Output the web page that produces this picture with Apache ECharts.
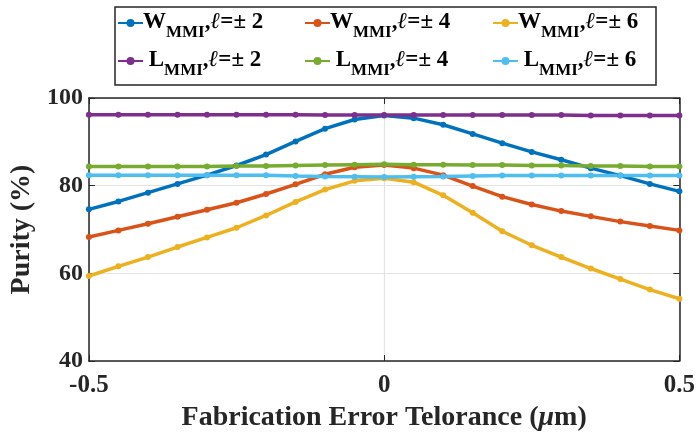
<!DOCTYPE html>
<html lang="en">
<head>
    <meta charset="UTF-8">
    <title>Purity vs fabrication error</title>
    <style>
        html, body { margin: 0; padding: 0; background: #fff; }
    </style>
</head>
<body>
    <div id="app" style="width: 698px;height:437px;"></div>
    <script src="https://cdn.jsdelivr.net/npm/echarts@6/dist/echarts.min.js"></script>
    <script>
        // fabrication error (um)
        const xVals = [-0.5, -0.45, -0.4, -0.35, -0.3, -0.25, -0.2, -0.15, -0.1, -0.05, 0,
                       0.05, 0.1, 0.15, 0.2, 0.25, 0.3, 0.35, 0.4, 0.45, 0.5];
        const wmmi2 = [74.6, 76.4, 78.4, 80.4, 82.4, 84.6, 87.1, 90.1, 93.0, 95.1, 96.0,
                       95.4, 93.9, 91.8, 89.7, 87.7, 85.9, 84.0, 82.3, 80.4, 78.7];
        const wmmi4 = [68.3, 69.8, 71.3, 72.9, 74.5, 76.1, 78.1, 80.3, 82.6, 84.2, 84.7,
                       84.0, 82.4, 79.9, 77.5, 75.7, 74.2, 73.0, 71.8, 70.8, 69.8];
        const wmmi6 = [59.4, 61.6, 63.7, 66.0, 68.2, 70.4, 73.2, 76.3, 79.1, 81.1, 81.7,
                       80.8, 77.8, 73.8, 69.6, 66.4, 63.7, 61.1, 58.7, 56.3, 54.2];
        const lmmi2 = [96.2, 96.2, 96.2, 96.2, 96.2, 96.2, 96.2, 96.2, 96.1, 96.1, 96.1,
                       96.1, 96.1, 96.1, 96.1, 96.1, 96.1, 96.0, 96.0, 96.0, 96.0];
        const lmmi4 = [84.4, 84.4, 84.4, 84.4, 84.4, 84.5, 84.5, 84.6, 84.7, 84.8, 84.9,
                       84.8, 84.8, 84.7, 84.7, 84.6, 84.6, 84.5, 84.5, 84.4, 84.4];
        const lmmi6 = [82.4, 82.4, 82.4, 82.4, 82.4, 82.4, 82.4, 82.2, 82.1, 82.05, 82.0,
                       82.05, 82.1, 82.2, 82.3, 82.3, 82.3, 82.3, 82.3, 82.3, 82.3];

        const names = ['W2', 'W4', 'W6', 'L2', 'L4', 'L6'];
        const seriesData = [wmmi2, wmmi4, wmmi6, lmmi2, lmmi4, lmmi6];
        const colors = ['#0072BD', '#D95319', '#EDB120', '#7E2F8E', '#77AC30', '#4DBEEE'];

        const font = '"Liberation Serif", "Times New Roman", serif';
        const ink = '#262626';

        const pair = arr => arr.map((v, i) => [xVals[i], v]);

        const legendRich = {
            b: { fontFamily: font, fontWeight: 'bold', fontSize: 23, color: '#000', lineHeight: 24, verticalAlign: 'top' },
            s: { fontFamily: font, fontWeight: 'bold', fontSize: 17, color: '#000', lineHeight: 17, verticalAlign: 'top', padding: [13, 0, 0, 0] },
            i: { fontFamily: font, fontStyle: 'italic', fontWeight: 'bold', fontSize: 23, color: '#000', lineHeight: 24, verticalAlign: 'top' }
        };
        function legendText(name) {
            const letter = name[0];
            const l = name[1];
            const pre = letter === 'L' ? ' ' : '';
            return '{b|' + pre + letter + '}{s|MMI}{b|,}{i|ℓ}{b|=± ' + l + '}';
        }
        // legend positions, one per item
        const legLeft = [117, 304, 492, 117, 304, 492];
        const legTop = [11, 11, 11, 49, 49, 49];

        const axisLineStyle = { onZero: false, lineStyle: { color: ink, width: 1.5 } };

        const myChart = echarts.init(document.getElementById('app'));
        const options = {
            animation: false,
            color: colors,
            grid: { left: 87, right: 17, top: 98, bottom: 72 },
            legend: names.map((n, k) => ({
                data: [n],
                left: legLeft[k],
                top: legTop[k],
                padding: 0,
                itemWidth: 25,
                itemHeight: 10,
                itemGap: 0,
                selectedMode: false,
                formatter: legendText,
                textStyle: { rich: legendRich, padding: [0, 0, 0, -5] }
            })),
            graphic: [{
                type: 'rect',
                shape: { x: 115, y: 7, width: 541, height: 78 },
                style: { fill: 'none', stroke: ink, lineWidth: 1.5 },
                z: 10
            }],
            xAxis: [{
                type: 'value',
                min: -0.5, max: 0.5, interval: 0.5,
                name: '{a|Fabrication Error Telorance (}{i|μ}{a|m)}',
                nameLocation: 'middle',
                nameGap: 43,
                nameTextStyle: {
                    rich: {
                        a: { fontFamily: font, fontWeight: 'bold', fontSize: 28, color: ink },
                        i: { fontFamily: font, fontWeight: 'bold', fontStyle: 'italic', fontSize: 28, color: ink }
                    }
                },
                axisLine: { show: true, ...axisLineStyle },
                axisTick: { inside: true, length: 6, lineStyle: { color: ink } },
                axisLabel: { fontFamily: font, fontWeight: 'bold', fontSize: 25, color: ink, margin: 12,
                    formatter: v => v === 0 ? '0' : String(v) },
                splitLine: { show: true, lineStyle: { color: '#e3e3e3', width: 1.2 } }
            }, {
                type: 'value', position: 'top',
                min: -0.5, max: 0.5, interval: 0.5,
                axisLine: { show: true, ...axisLineStyle },
                axisTick: { show: true, inside: true, length: 6, lineStyle: { color: ink } },
                axisLabel: { show: false },
                splitLine: { show: false }
            }],
            yAxis: [{
                type: 'value',
                min: 40, max: 100, interval: 20,
                name: 'Purity (%)',
                nameLocation: 'middle',
                nameGap: 47,
                nameTextStyle: { fontFamily: font, fontWeight: 'bold', fontSize: 28, color: ink },
                axisLine: { show: true, ...axisLineStyle },
                axisTick: { show: true, inside: true, length: 6, lineStyle: { color: ink } },
                axisLabel: { fontFamily: font, fontWeight: 'bold', fontSize: 24, color: ink, margin: 6 },
                splitLine: { show: true, lineStyle: { color: '#e3e3e3', width: 1.2 } }
            }, {
                type: 'value', position: 'right',
                min: 40, max: 100, interval: 20,
                axisLine: { show: true, ...axisLineStyle },
                axisTick: { show: true, inside: true, length: 6, lineStyle: { color: ink } },
                axisLabel: { show: false },
                splitLine: { show: false }
            }],
            series: names.map((n, k) => ({
                name: n,
                type: 'line',
                data: pair(seriesData[k]),
                symbol: 'circle',
                symbolSize: 6,
                lineStyle: { width: 3.5 },
                itemStyle: { color: colors[k] }
            }))
        };
        myChart.setOption(options);
    </script>
</body>
</html>
